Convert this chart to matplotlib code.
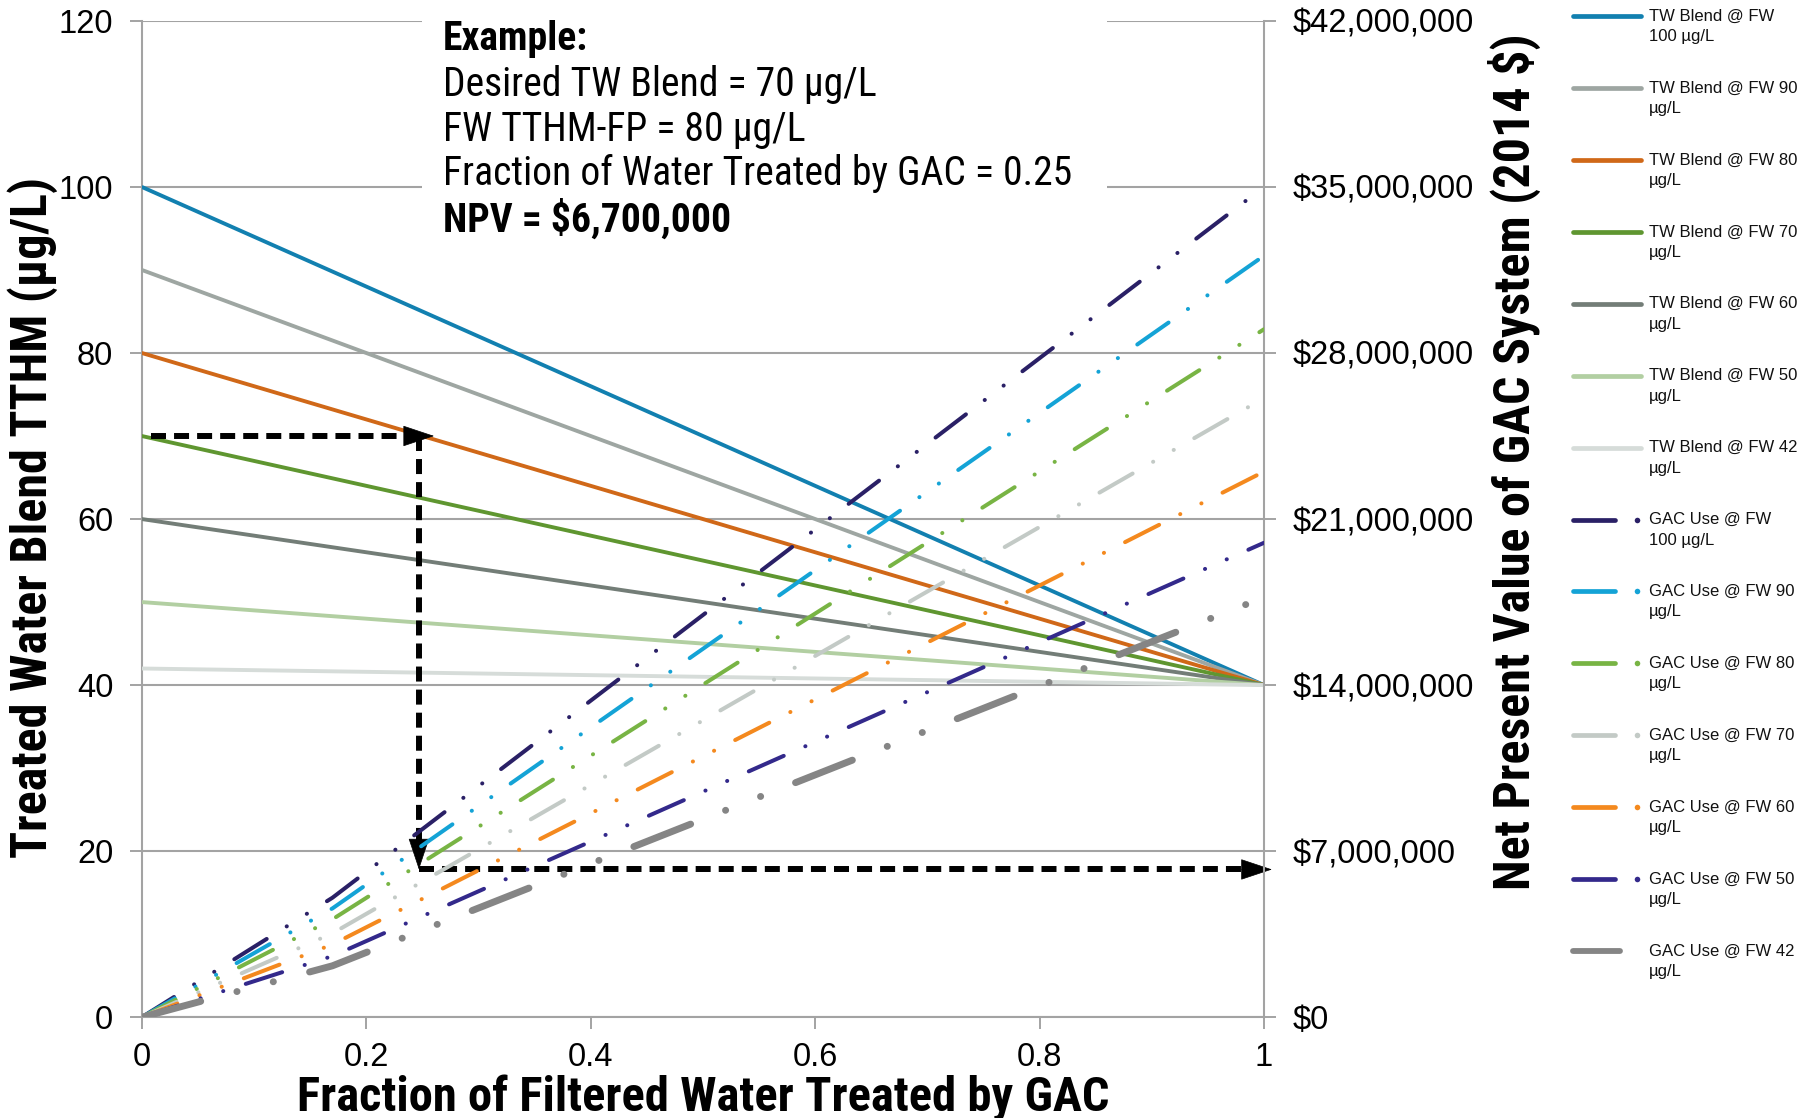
import matplotlib
matplotlib.use('Agg')
import matplotlib.pyplot as plt
from matplotlib import font_manager
from matplotlib.ticker import FuncFormatter

plt.rcParams['lines.scale_dashes'] = False

names = {f.name for f in font_manager.fontManager.ttflist}
NARROW = 'DejaVu Sans'
for cand in ['Liberation Sans Narrow', 'Roboto Condensed', 'Arial Narrow', 'Roboto']:
    if cand in names:
        NARROW = cand
        break
NARROW = [NARROW, 'DejaVu Sans']
REG = ['Liberation Sans', 'DejaVu Sans']

# TW blend TTHM (ug/L) vs fraction treated by GAC
tw_frac = [0.0, 1.0]
tw_100 = [100, 40]
tw_90 = [90, 40]
tw_80 = [80, 40]
tw_70 = [70, 40]
tw_60 = [60, 40]
tw_50 = [50, 40]
tw_42 = [42, 40]

# NPV of GAC system ($) vs fraction treated
gac_frac = [0.0, 0.17, 1.0]
gac_100 = [0, 5.04e6, 35.0e6]
gac_90 = [0, 4.59e6, 32.1e6]
gac_80 = [0, 4.13e6, 29.0e6]
gac_70 = [0, 3.54e6, 26.1e6]
gac_60 = [0, 3.07e6, 23.0e6]
gac_50 = [0, 2.58e6, 20.0e6]
gac_42 = [0, 2.17e6, 17.7e6]

tw_series = [tw_100, tw_90, tw_80, tw_70, tw_60, tw_50, tw_42]
gac_series = [gac_100, gac_90, gac_80, gac_70, gac_60, gac_50, gac_42]
fw_labels = ['100', '90', '80', '70', '60', '50', '42']

tw_colors = ['#1280b0', '#9ea6a2', '#d06818', '#5f9630', '#737d77', '#b2cfa2', '#d6dcd9']
gac_colors = ['#2a2066', '#14a3d6', '#78b444', '#c3cac6', '#f4891e', '#33298b', '#858585']

# example read-off
ex_frac = 0.247
ex_tw = 70
ex_left = 17.8

fig = plt.figure(figsize=(18.12, 11.18), dpi=100)
ax = fig.add_axes([0.0782, 0.0901, 0.6194, 0.8913])
ax2 = ax.twinx()

grid_c = '#a3a3a3'
ax.set_xlim(0, 1)
ax.set_ylim(0, 120)
ax2.set_ylim(0, 42e6)
ax.set_xticks([0, 0.2, 0.4, 0.6, 0.8, 1.0])
ax.set_xticklabels(['0', '0.2', '0.4', '0.6', '0.8', '1'])
ax.set_yticks(range(0, 121, 20))
ax2.set_yticks([i * 7e6 for i in range(7)])
ax2.yaxis.set_major_formatter(FuncFormatter(lambda v, p: '${:,.0f}'.format(v)))
ax.grid(axis='y', color=grid_c, lw=1.5)

for a in (ax, ax2):
    for s in a.spines.values():
        s.set_visible(False)
    a.tick_params(length=8.5, width=1.4, color=grid_c, labelsize=23.5, pad=12)
    for t in a.get_xticklabels() + a.get_yticklabels():
        t.set_family(REG)
ax.spines['left'].set_visible(True)
ax.spines['bottom'].set_visible(True)
ax2.spines['right'].set_visible(True)
for s in (ax.spines['left'], ax.spines['bottom'], ax2.spines['right']):
    s.set_color(grid_c)
    s.set_linewidth(1.5)
ax.tick_params(axis='x', pad=9)

for ys, c in zip(tw_series, tw_colors):
    ax.plot(tw_frac, ys, color=c, lw=2.8, zorder=3, solid_capstyle='butt')

dash = (0, (27.5, 17, 0.1, 17, 0.1, 17))
dash42 = (0, (44, 27, 0.1, 27, 0.1, 27))
for i, (ys, c) in enumerate(zip(gac_series, gac_colors)):
    thick = fw_labels[i] == '42'
    ax2.plot(gac_frac, ys, color=c, lw=5.0 if thick else 2.9,
             linestyle=dash42 if thick else dash, dash_capstyle='round', zorder=3)

# white example box covering gridlines
box = plt.Rectangle((422 / 1812, 1 - 232 / 1118), (1107 - 422) / 1812, 232 / 1118,
                    transform=fig.transFigure, facecolor='white', edgecolor='none',
                    zorder=1.7, clip_on=False)
ax.add_patch(box)

ex_lines = [('Example:', 'bold'), ('Desired TW Blend = 70 µg/L', 'normal'),
            ('FW TTHM-FP = 80 µg/L', 'normal'),
            ('Fraction of Water Treated by GAC = 0.25', 'normal'),
            ('NPV = $6,700,000', 'bold')]
for i, (txt, w) in enumerate(ex_lines):
    fig.text(443 / 1812, 1 - (39.5 + i * 44.8) / 1118, txt, fontsize=28.5,
             fontweight=w, va='center', ha='left', family=NARROW)

# example arrows (left-axis units)
arr_kw = dict(color='black', lw=4.3, linestyle=(0, (10.8, 5.8)), dash_capstyle='butt', zorder=5)
ax.plot([0.008, 0.236], [ex_tw, ex_tw], **arr_kw)
ax.plot([ex_frac, ex_frac], [ex_tw, ex_left + 3.0], **arr_kw)
ax.plot([ex_frac, 0.98], [ex_left, ex_left], clip_on=False, **arr_kw)
head = dict(arrowstyle='-|>,head_length=21,head_width=7', mutation_scale=1,
            color='black', lw=0.5, shrinkA=0, shrinkB=0)
ax.annotate('', xy=(0.2605, ex_tw), xytext=(0.236, ex_tw), arrowprops=head, zorder=6)
ax.annotate('', xy=(ex_frac, ex_left), xytext=(ex_frac, ex_left + 3.6), arrowprops=head, zorder=6)
ax.annotate('', xy=(1.007, ex_left), xytext=(0.98, ex_left), arrowprops=head,
            zorder=6, annotation_clip=False)

# axis titles
fig.text(33 / 1812, 1 - 517 / 1118, 'Treated Water Blend TTHM (µg/L)', rotation=90,
         fontsize=36, fontweight='bold', ha='center', va='center', family=NARROW)
fig.text(1514 / 1812, 1 - 462 / 1118, 'Net Present Value of GAC System (2014 $)', rotation=90,
         fontsize=36, fontweight='bold', ha='center', va='center', family=NARROW)
fig.text(703 / 1812, 1 - 1098 / 1118, 'Fraction of Filtered Water Treated by GAC',
         fontsize=35, fontweight='bold', ha='center', va='center', family=NARROW)

# legend drawn in pixel space on the right
lax = fig.add_axes([0, 0, 1, 1])
lax.set_xlim(0, 1812)
lax.set_ylim(1118, 0)
lax.axis('off')
labels = ['TW Blend @ FW\n100 µg/L'] + ['TW Blend @ FW %s\nµg/L' % f for f in fw_labels[1:]]
labels += ['GAC Use @ FW\n100 µg/L'] + ['GAC Use @ FW %s\nµg/L' % f for f in fw_labels[1:]]
colors = tw_colors + gac_colors
for i, (lab, c) in enumerate(zip(labels, colors)):
    y = 16.2 + i * 71.9
    if i < 7:
        lax.plot([1573, 1641], [y, y], color=c, lw=3.4, solid_capstyle='round')
    elif i < 13:
        lax.plot([1573, 1615], [y, y], color=c, lw=3.4, solid_capstyle='round')
        lax.plot([1637], [y], 'o', color=c, ms=4, mew=0)
    else:
        lax.plot([1573, 1620], [y, y], color=c, lw=4.2, solid_capstyle='round')
    for j, part in enumerate(lab.split('\n')):
        lax.text(1649, y + j * 20.5, part, fontsize=12, va='center', ha='left',
                 family=REG, color='#111111')

fig.savefig('out.png', dpi=100)
